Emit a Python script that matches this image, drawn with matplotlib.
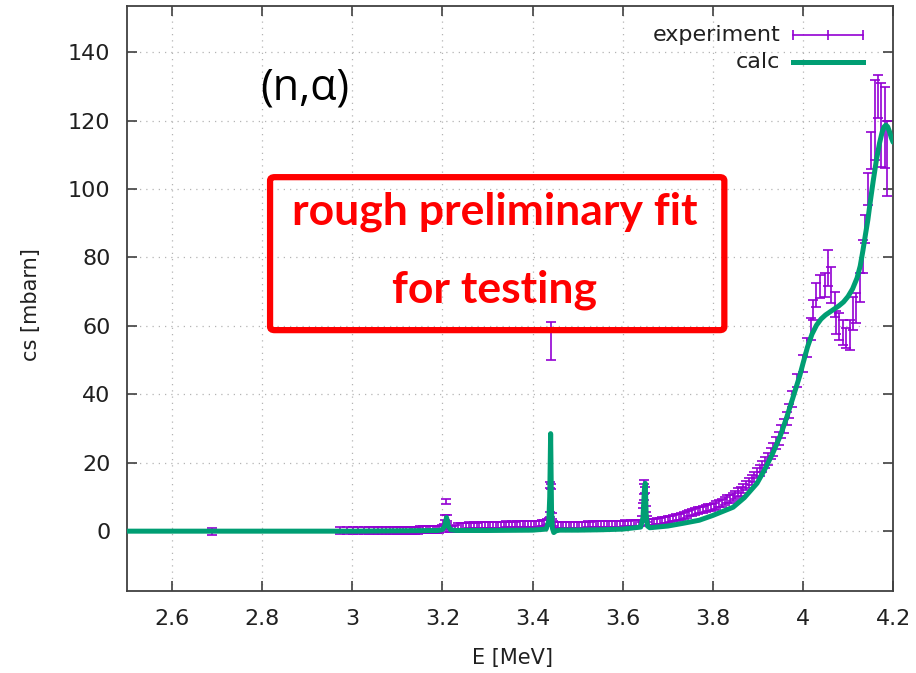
"""
(n,alpha) cross section: measured points with error bars vs. calculation.
"""

import matplotlib
matplotlib.use("Agg")
import matplotlib.pyplot as plt
import matplotlib.patches as mpatches

plt.rcParams["font.family"] = ["DejaVu Sans"]

# ---- measured cross section (E in MeV, cs and error in mbarn) ----
exp_E = [
    2.689, 2.973, 2.988, 3.001, 3.013, 3.025, 3.036, 3.047, 3.057, 3.066,
    3.075, 3.083, 3.091, 3.099, 3.106, 3.113, 3.120, 3.127, 3.133, 3.139,
    3.145, 3.151, 3.157, 3.163, 3.168, 3.173, 3.178, 3.183, 3.188, 3.193,
    3.198, 3.203,
    # 3.21 resonance
    3.205, 3.207, 3.209, 3.211,
    3.216, 3.222, 3.228, 3.234, 3.240, 3.246, 3.252, 3.258, 3.264, 3.270,
    3.276, 3.282, 3.288, 3.294, 3.300, 3.306, 3.312, 3.318, 3.324, 3.330,
    3.336, 3.342, 3.348, 3.354, 3.360, 3.366, 3.372, 3.378, 3.384, 3.390,
    3.396, 3.402, 3.408, 3.414, 3.420, 3.426, 3.432,
    # 3.44 resonance
    3.436, 3.438, 3.439, 3.440, 3.441, 3.443, 3.445,
    3.450, 3.456, 3.462, 3.468, 3.474, 3.480, 3.486, 3.492, 3.498, 3.504,
    3.510, 3.516, 3.522, 3.528, 3.534, 3.540, 3.546, 3.552, 3.558, 3.564,
    3.570, 3.576, 3.582, 3.588, 3.594, 3.600, 3.606, 3.612, 3.618, 3.624,
    3.630, 3.636, 3.641,
    # 3.65 resonance
    3.643, 3.645, 3.647, 3.648, 3.650, 3.652, 3.654,
    3.658, 3.664, 3.670, 3.676, 3.682, 3.688, 3.694, 3.700, 3.706, 3.712,
    3.718, 3.724, 3.730, 3.736, 3.742, 3.748, 3.754, 3.760, 3.766, 3.772,
    3.778, 3.784, 3.790, 3.796, 3.802, 3.808, 3.814, 3.820, 3.826, 3.832,
    3.838, 3.844, 3.850, 3.856, 3.862, 3.868, 3.874, 3.880, 3.886, 3.892,
    3.898, 3.904, 3.910, 3.916, 3.922, 3.928, 3.934, 3.940, 3.946, 3.952,
    3.958, 3.964, 3.970,
    # high-energy region
    3.975, 3.986, 4.000, 4.008, 4.018, 4.022, 4.030, 4.037, 4.048, 4.056,
    4.063, 4.070, 4.074, 4.081, 4.089, 4.096, 4.104, 4.111, 4.118, 4.126,
    4.133, 4.137, 4.145, 4.152, 4.160, 4.167, 4.174, 4.181, 4.187,
]
exp_cs = [
    0.0, 0.1, 0.1, 0.1, 0.1, 0.1, 0.1, 0.2, 0.2, 0.2,
    0.2, 0.2, 0.2, 0.2, 0.3, 0.3, 0.3, 0.3, 0.3, 0.3,
    0.3, 0.4, 0.4, 0.4, 0.4, 0.5, 0.5, 0.5, 0.5, 0.6,
    0.7, 1.2,
    4.0, 8.6, 3.8, 1.5,
    0.6, 0.7, 0.8, 1.4, 1.5, 1.6, 1.5, 1.7, 1.6, 1.7,
    1.6, 1.8, 1.7, 1.8, 1.7, 1.8, 1.9, 1.8, 1.9, 1.8,
    1.9, 2.0, 1.9, 2.0, 1.9, 2.0, 2.1, 2.0, 2.1, 2.0,
    2.1, 2.2, 2.1, 2.2, 2.3, 2.4, 2.6,
    3.0, 4.8, 13.5, 55.5, 13.0, 4.5, 2.2,
    1.8, 1.7, 1.8, 1.7, 1.8, 1.8, 1.9, 1.8, 1.9, 1.9,
    1.8, 1.9, 2.0, 1.9, 2.0, 2.0, 2.1, 2.0, 2.1, 2.1,
    2.0, 2.1, 2.2, 2.1, 2.2, 2.2, 2.3, 2.2, 2.3, 2.3,
    2.4, 2.3, 2.5,
    3.5, 7.5, 10.0, 14.4, 12.0, 6.5, 3.5,
    2.6, 2.7, 2.8, 2.9, 3.0, 3.1, 3.2, 3.4, 3.5, 3.8,
    4.0, 4.1, 4.4, 4.6, 4.9, 5.3, 5.5, 5.7, 6.1, 6.2,
    6.3, 6.7, 6.8, 7.0, 7.2, 7.7, 8.1, 8.3, 8.8, 9.3,
    9.5, 10.1, 10.5, 11.3, 11.7, 12.5, 13.4, 14.1, 15.0, 15.8,
    16.9, 17.7, 18.9, 20.1, 21.1, 22.7, 23.9, 25.7, 27.1, 29.1,
    30.7, 32.9, 35.1,
    38.7, 44.0, 49.0, 53.6, 59.0, 64.6, 69.0, 71.6, 72.0, 77.0,
    72.0, 66.2, 61.0, 59.8, 58.0, 56.5, 57.3, 63.6, 65.2, 71.2,
    80.2, 88.3, 100.0, 111.3, 120.2, 127.0, 118.7, 118.0, 109.0,
]
exp_err = [
    1.0, 1.0, 1.0, 1.0, 1.0, 1.0, 1.0, 1.0, 1.0, 1.0,
    1.0, 1.0, 1.0, 1.0, 1.0, 1.0, 1.0, 1.0, 1.0, 1.0,
    1.0, 1.0, 1.0, 1.0, 1.0, 1.0, 1.0, 1.0, 1.0, 1.0,
    1.0, 1.0,
    0.8, 0.8, 0.8, 0.8,
    0.9, 0.9, 0.9, 0.9, 0.9, 0.9, 0.9, 0.9, 0.9, 0.9,
    0.9, 0.9, 0.9, 0.9, 0.9, 0.9, 0.9, 0.9, 0.9, 0.9,
    0.9, 0.9, 0.9, 0.9, 0.9, 0.9, 0.9, 0.9, 0.9, 0.9,
    0.9, 0.9, 0.9, 0.9, 0.9, 0.9, 0.9,
    0.8, 0.8, 0.8, 5.5, 0.8, 0.8, 0.8,
    0.9, 0.9, 0.9, 0.9, 0.9, 0.9, 0.9, 0.9, 0.9, 0.9,
    0.9, 0.9, 0.9, 0.9, 0.9, 0.9, 0.9, 0.9, 0.9, 0.9,
    0.9, 0.9, 0.9, 0.9, 0.9, 0.9, 0.9, 0.9, 0.9, 0.9,
    0.9, 0.9, 0.9,
    0.8, 0.8, 0.8, 0.6, 0.8, 0.8, 0.8,
    0.9, 0.9, 0.9, 0.9, 0.9, 0.9, 0.9, 0.9, 0.9, 0.9,
    0.9, 0.9, 1.0, 1.0, 1.0, 1.0, 1.0, 1.0, 1.0, 1.0,
    1.0, 1.0, 1.0, 1.0, 1.1, 1.1, 1.1, 1.1, 1.1, 1.2,
    1.2, 1.2, 1.2, 1.3, 1.3, 1.3, 1.4, 1.4, 1.4, 1.5,
    1.5, 1.5, 1.6, 1.6, 1.7, 1.7, 1.8, 1.8, 1.9, 1.9,
    2.0, 2.0, 2.1,
    2.4, 2.0, 2.6, 2.8, 3.2, 3.0, 3.5, 3.3, 3.6, 5.2,
    5.3, 3.7, 3.4, 4.0, 3.6, 3.0, 4.4, 4.8, 4.4, 4.2,
    4.8, 4.1, 4.7, 5.4, 11.7, 6.3, 12.3, 11.7, 11.0,
]

# ---- calculated cross section ----
calc_E = [
    2.500, 3.000, 3.190, 3.200, 3.205, 3.209, 3.213, 3.218, 3.230, 3.300,
    3.400, 3.430, 3.436, 3.438, 3.440, 3.442, 3.444, 3.447, 3.452, 3.460,
    3.500, 3.550, 3.600, 3.640, 3.645, 3.648, 3.650, 3.652, 3.655, 3.660,
    3.700, 3.734, 3.770, 3.800, 3.845, 3.870, 3.898, 3.915, 3.933, 3.950,
    3.964, 3.980, 3.993, 4.000, 4.010, 4.020, 4.030, 4.040, 4.050, 4.060,
    4.070, 4.080, 4.090, 4.100, 4.110, 4.120, 4.127, 4.133, 4.139, 4.144,
    4.149, 4.156, 4.163, 4.170, 4.176, 4.180, 4.184, 4.188, 4.192, 4.196,
    4.200,
]
calc_cs = [
    0.0, 0.0, 0.2, 0.5, 1.5, 4.0, 1.5, 0.4, 0.2, 0.2,
    0.3, 0.6, 3.0, 10.0, 28.5, 6.0, 0.8, -0.4, 0.1, 0.3,
    0.3, 0.4, 0.6, 1.2, 4.0, 12.0, 14.0, 5.0, 1.5, 1.0,
    1.5, 2.3, 3.2, 4.6, 7.0, 9.8, 14.0, 18.0, 22.8, 28.0,
    33.3, 40.0, 45.5, 49.0, 53.8, 57.6, 60.2, 62.0, 63.2, 64.1,
    65.0, 65.9, 67.0, 68.6, 70.8, 74.0, 77.5, 82.0, 87.0, 91.0,
    96.0, 102.5, 108.5, 113.5, 116.8, 118.2, 118.7, 118.2, 116.8, 115.0,
    113.7,
]

x_ticks = [2.6, 2.8, 3.0, 3.2, 3.4, 3.6, 3.8, 4.0, 4.2]
x_ticklabels = ["2.6", "2.8", "3", "3.2", "3.4", "3.6", "3.8", "4", "4.2"]
y_ticks = [0, 20, 40, 60, 80, 100, 120, 140]

EXP_COLOR = "#9400d3"
CALC_COLOR = "#009e73"
AXIS_COLOR = "#404040"
TEXT_COLOR = "#202020"

fig = plt.figure(figsize=(9.16, 6.73), dpi=100)
ax = fig.add_axes([0.1387, 0.1218, 0.8363, 0.8692])

ax.errorbar(exp_E, exp_cs, yerr=exp_err, fmt="none", ecolor=EXP_COLOR,
            elinewidth=1.2, capsize=3.6, capthick=1.2, zorder=3)
ax.plot(calc_E, calc_cs, color=CALC_COLOR, lw=3.6,
        solid_joinstyle="round", solid_capstyle="round", zorder=4)

ax.set_xlim(2.5, 4.2)
ax.set_ylim(-17.5, 153.5)
ax.set_xticks(x_ticks)
ax.set_xticklabels(x_ticklabels)
ax.set_yticks(y_ticks)
ax.tick_params(direction="in", length=7, width=1.2, color=AXIS_COLOR,
               top=True, right=True, labelsize=16, labelcolor=TEXT_COLOR)
ax.tick_params(axis="x", pad=13)
ax.tick_params(axis="y", pad=12)
ax.grid(True, color="#b4b4b4", lw=0.9, linestyle=(0, (1, 4)))
for sp in ax.spines.values():
    sp.set_color(AXIS_COLOR)
    sp.set_linewidth(1.3)

ax.set_xlabel("E [MeV]", fontsize=15, color=TEXT_COLOR)
ax.set_ylabel("cs [mbarn]", fontsize=15, color=TEXT_COLOR)
ax.xaxis.set_label_coords(0.5026, -0.098)
ax.yaxis.set_label_coords(-0.112, 0.49)

# reaction label
ax.text(0.2324, 0.86, "(n,\u03b1)", transform=ax.transAxes, fontsize=31,
        family=["Open Sans", "DejaVu Sans"], ha="center", va="center")

# warning box
box = mpatches.FancyBboxPatch((0.1867, 0.446), 0.593, 0.2615,
                              boxstyle="round,pad=0,rounding_size=0.006",
                              transform=ax.transAxes, fill=False,
                              edgecolor="#ff0000", lw=4.5, zorder=5)
ax.add_patch(box)
ax.text(0.480, 0.648, "rough preliminary fit", transform=ax.transAxes,
        fontsize=32, fontweight="bold", color="#ff0000", family="Lato",
        ha="center", va="center", zorder=6)
ax.text(0.480, 0.5145, "for testing", transform=ax.transAxes,
        fontsize=32, fontweight="bold", color="#ff0000", family="Lato",
        ha="center", va="center", zorder=6)

# key, top right
ax.text(0.8525, 0.950, "experiment", transform=ax.transAxes, fontsize=16,
        color=TEXT_COLOR, ha="right", va="center")
ax.text(0.8525, 0.904, "calc", transform=ax.transAxes, fontsize=16,
        color=TEXT_COLOR, ha="right", va="center")
ax.plot([0.8695, 0.9608], [0.950, 0.950], color=EXP_COLOR, lw=1.2,
        transform=ax.transAxes, clip_on=False)
ax.plot([0.8695, 0.915, 0.9608], [0.950, 0.950, 0.950], ls="none",
        marker="|", ms=7, mew=1.2, color=EXP_COLOR,
        transform=ax.transAxes, clip_on=False)
ax.plot([0.8695, 0.9608], [0.904, 0.904], color=CALC_COLOR, lw=3.6,
        transform=ax.transAxes, clip_on=False)

fig.savefig("out.png", dpi=100, facecolor="white")
